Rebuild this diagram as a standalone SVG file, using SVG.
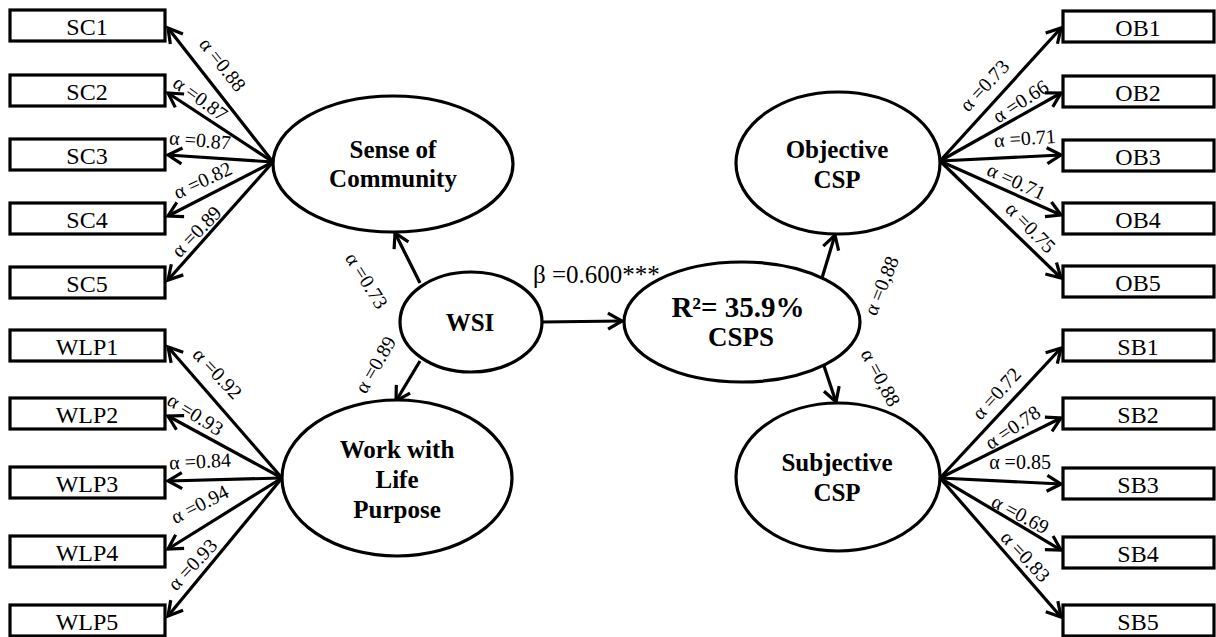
<svg xmlns="http://www.w3.org/2000/svg" width="1216" height="637" viewBox="0 0 1216 637">
  <defs>
    <marker id="arrow" markerUnits="userSpaceOnUse" markerWidth="24" markerHeight="24" viewBox="-16 -12 20 24" refX="0" refY="0" orient="auto">
      <path d="M-14,-8 L0,0 L-14,8" fill="none" stroke="#000" stroke-width="3.2" stroke-linejoin="miter"/>
    </marker>
    <style>
      .box { fill: #fff; stroke: #000; stroke-width: 3.2; }
      .latent { fill: #fff; stroke: #000; stroke-width: 3.2; }
      .item { font-family: "Liberation Serif", "Times New Roman", serif; font-size: 24px; text-anchor: middle; fill: #000; }
      .name { font-family: "Liberation Serif", "Times New Roman", serif; font-size: 25px; font-weight: bold; text-anchor: middle; fill: #000; }
      .lbl { font-family: "Liberation Serif", "Times New Roman", serif; font-size: 20px; text-anchor: middle; fill: #000; }
      .beta { font-family: "Liberation Serif", "Times New Roman", serif; font-size: 25px; fill: #000; }
      .edge { stroke: #000; stroke-width: 3.2; fill: none; marker-end: url(#arrow); }
    </style>
  </defs>
  <rect width="1216" height="637" fill="#fff"/>

  <!-- connectors -->
  <g id="connectors">
    <!-- Sense of Community indicators -->
    <line class="edge" x1="273" y1="162" x2="168" y2="28"/>
    <line class="edge" x1="273" y1="162" x2="168" y2="93"/>
    <line class="edge" x1="273" y1="162" x2="168" y2="155"/>
    <line class="edge" x1="273" y1="162" x2="168" y2="216"/>
    <line class="edge" x1="273" y1="162" x2="168" y2="280"/>
    <!-- Work with Life Purpose indicators -->
    <line class="edge" x1="282" y1="478" x2="168" y2="347"/>
    <line class="edge" x1="282" y1="478" x2="168" y2="416"/>
    <line class="edge" x1="282" y1="478" x2="168" y2="481"/>
    <line class="edge" x1="282" y1="478" x2="168" y2="549"/>
    <line class="edge" x1="282" y1="478" x2="168" y2="616"/>
    <!-- Objective CSP indicators -->
    <line class="edge" x1="940" y1="161" x2="1061" y2="28"/>
    <line class="edge" x1="940" y1="161" x2="1061" y2="93"/>
    <line class="edge" x1="940" y1="161" x2="1061" y2="155"/>
    <line class="edge" x1="940" y1="161" x2="1061" y2="215"/>
    <line class="edge" x1="940" y1="161" x2="1061" y2="278"/>
    <!-- Subjective CSP indicators -->
    <line class="edge" x1="940" y1="478" x2="1061" y2="348"/>
    <line class="edge" x1="940" y1="478" x2="1061" y2="418"/>
    <line class="edge" x1="940" y1="478" x2="1061" y2="484"/>
    <line class="edge" x1="940" y1="478" x2="1061" y2="550"/>
    <line class="edge" x1="940" y1="478" x2="1061" y2="617"/>
    <!-- structural paths -->
    <line class="edge" x1="420" y1="283" x2="395" y2="233"/>
    <line class="edge" x1="420" y1="361" x2="396" y2="401"/>
    <line class="edge" x1="542" y1="322" x2="622" y2="321"/>
    <line class="edge" x1="822" y1="278" x2="835" y2="235"/>
    <line class="edge" x1="824" y1="366" x2="836" y2="402"/>

    <!-- path labels -->
    <text class="lbl" transform="translate(222,65) rotate(52)" dy="6">α =0.88</text>
    <text class="lbl" transform="translate(200,99) rotate(36)" dy="6">α =0.87</text>
    <text class="lbl" transform="translate(200,141) rotate(5)" dy="6">α =0.87</text>
    <text class="lbl" transform="translate(203,181) rotate(-25)" dy="6">α =0.82</text>
    <text class="lbl" transform="translate(197,232) rotate(-46)" dy="6">α =0.89</text>
    <text class="lbl" transform="translate(366,281) rotate(58)" dy="6">α =0.73</text>
    <text class="lbl" transform="translate(376,365) rotate(-60)" dy="6">α =0.89</text>
    <text class="lbl" transform="translate(217,374) rotate(47)" dy="6">α =0.92</text>
    <text class="lbl" transform="translate(195,415) rotate(32)" dy="6">α =0.93</text>
    <text class="lbl" transform="translate(200,462) rotate(-3)" dy="6">α =0.84</text>
    <text class="lbl" transform="translate(200,505) rotate(-27)" dy="6">α =0.94</text>
    <text class="lbl" transform="translate(193,565) rotate(-47)" dy="6">α =0.93</text>
    <text class="lbl" transform="translate(985,86) rotate(-47)" dy="6">α =0.73</text>
    <text class="lbl" transform="translate(1021,102) rotate(-33)" dy="6">α =0.66</text>
    <text class="lbl" transform="translate(1025,139) rotate(-4)" dy="6">α =0.71</text>
    <text class="lbl" transform="translate(1016,182) rotate(25)" dy="6">α =0.71</text>
    <text class="lbl" transform="translate(1030,228) rotate(46)" dy="6">α =0.75</text>
    <text class="lbl" transform="translate(997,394) rotate(-48)" dy="6">α =0.72</text>
    <text class="lbl" transform="translate(1013,428) rotate(-34)" dy="6">α =0.78</text>
    <text class="lbl" transform="translate(1020,463) rotate(0)" dy="6">α =0.85</text>
    <text class="lbl" transform="translate(1020,515) rotate(28)" dy="6">α =0.69</text>
    <text class="lbl" transform="translate(1025,557) rotate(47)" dy="6">α =0.83</text>
    <text class="lbl" transform="translate(882,286) rotate(-68)" dy="6">α =0,88</text>
    <text class="lbl" transform="translate(880,378) rotate(62)" dy="6">α =0,88</text>
    <text class="beta" x="533" y="283">β =0.600***</text>
  </g>

  <!-- observed indicators, left -->
  <g id="SC1"><rect class="box" x="10" y="10" width="155" height="31"/><text class="item" x="87" y="35">SC1</text></g>
  <g id="SC2"><rect class="box" x="10" y="75" width="155" height="31"/><text class="item" x="87" y="100">SC2</text></g>
  <g id="SC3"><rect class="box" x="10" y="139" width="155" height="31"/><text class="item" x="87" y="164">SC3</text></g>
  <g id="SC4"><rect class="box" x="10" y="203" width="155" height="31"/><text class="item" x="87" y="228">SC4</text></g>
  <g id="SC5"><rect class="box" x="10" y="267" width="155" height="31"/><text class="item" x="87" y="292">SC5</text></g>
  <g id="WLP1"><rect class="box" x="10" y="330" width="155" height="31"/><text class="item" x="87" y="355">WLP1</text></g>
  <g id="WLP2"><rect class="box" x="10" y="398" width="155" height="31"/><text class="item" x="87" y="423">WLP2</text></g>
  <g id="WLP3"><rect class="box" x="10" y="467" width="155" height="31"/><text class="item" x="87" y="492">WLP3</text></g>
  <g id="WLP4"><rect class="box" x="10" y="536" width="155" height="31"/><text class="item" x="87" y="561">WLP4</text></g>
  <g id="WLP5"><rect class="box" x="10" y="605" width="155" height="31"/><text class="item" x="87" y="630">WLP5</text></g>

  <!-- observed indicators, right -->
  <g id="OB1"><rect class="box" x="1063" y="11" width="151" height="31"/><text class="item" x="1138" y="36">OB1</text></g>
  <g id="OB2"><rect class="box" x="1063" y="76" width="151" height="31"/><text class="item" x="1138" y="101">OB2</text></g>
  <g id="OB3"><rect class="box" x="1063" y="140" width="151" height="31"/><text class="item" x="1138" y="165">OB3</text></g>
  <g id="OB4"><rect class="box" x="1063" y="203" width="151" height="31"/><text class="item" x="1138" y="228">OB4</text></g>
  <g id="OB5"><rect class="box" x="1063" y="266" width="151" height="31"/><text class="item" x="1138" y="291">OB5</text></g>
  <g id="SB1"><rect class="box" x="1063" y="330" width="151" height="31"/><text class="item" x="1138" y="355">SB1</text></g>
  <g id="SB2"><rect class="box" x="1063" y="398" width="151" height="31"/><text class="item" x="1138" y="423">SB2</text></g>
  <g id="SB3"><rect class="box" x="1063" y="468" width="151" height="31"/><text class="item" x="1138" y="493">SB3</text></g>
  <g id="SB4"><rect class="box" x="1063" y="537" width="151" height="31"/><text class="item" x="1138" y="562">SB4</text></g>
  <g id="SB5"><rect class="box" x="1063" y="605" width="151" height="31"/><text class="item" x="1138" y="630">SB5</text></g>

  <!-- latent constructs -->
  <g id="sense-of-community">
    <ellipse class="latent" cx="393" cy="164" rx="120" ry="68"/>
    <text class="name" x="393" y="158">Sense of</text>
    <text class="name" x="393" y="187">Community</text>
  </g>
  <g id="work-with-life-purpose">
    <ellipse class="latent" cx="397" cy="478" rx="115" ry="78"/>
    <text class="name" x="397" y="458">Work with</text>
    <text class="name" x="397" y="488">Life</text>
    <text class="name" x="397" y="518">Purpose</text>
  </g>
  <g id="wsi">
    <ellipse class="latent" cx="471" cy="322" rx="71" ry="50"/>
    <text class="name" x="470" y="331">WSI</text>
  </g>
  <g id="csps">
    <ellipse class="latent" cx="742" cy="322" rx="118" ry="60"/>
    <text class="name" x="738" y="317" style="font-size:29px">R²= 35.9%</text>
    <text class="name" x="741" y="346" style="font-size:27px">CSPS</text>
  </g>
  <g id="objective-csp">
    <ellipse class="latent" cx="838" cy="163" rx="102" ry="71"/>
    <text class="name" x="837" y="158">Objective</text>
    <text class="name" x="837" y="188">CSP</text>
  </g>
  <g id="subjective-csp">
    <ellipse class="latent" cx="838" cy="477" rx="102" ry="74"/>
    <text class="name" x="837" y="471">Subjective</text>
    <text class="name" x="837" y="501">CSP</text>
  </g>
</svg>
